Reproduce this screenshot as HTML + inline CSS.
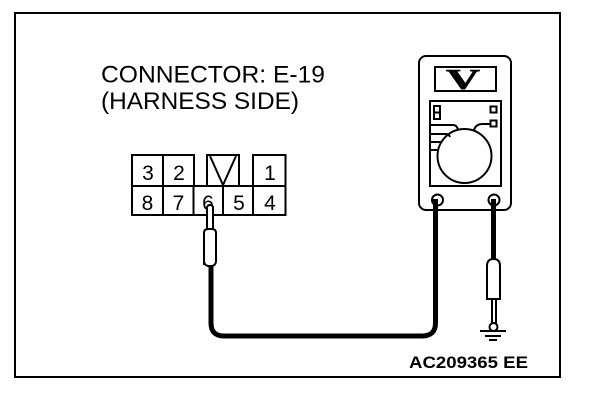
<!DOCTYPE html>
<html>
<head>
<meta charset="utf-8">
<style>
  html,body{margin:0;padding:0;background:#fff;}
  svg{display:block;}
</style>
</head>
<body>
<svg width="608" height="404" viewBox="0 0 608 404" xmlns="http://www.w3.org/2000/svg">
  <rect x="0" y="0" width="608" height="404" fill="#fff"/>
  <!-- frame -->
  <rect x="15" y="13" width="545" height="364" fill="none" stroke="#000" stroke-width="2"/>

  <!-- title -->
  <g font-family="'Liberation Sans', Arial, sans-serif" font-size="24" fill="#000">
    <text x="101" y="82.5" textLength="224" lengthAdjust="spacingAndGlyphs">CONNECTOR: E-19</text>
    <text x="101" y="109" textLength="198" lengthAdjust="spacingAndGlyphs">(HARNESS SIDE)</text>
  </g>

  <!-- connector -->
  <g fill="none" stroke="#000" stroke-width="2">
    <rect x="132" y="155" width="62" height="31"/>
    <line x1="163" y1="155" x2="163" y2="186"/>
    <rect x="207" y="155" width="32" height="31"/>
    <polyline points="210,156 223,185 236,156"/>
    <rect x="253" y="155" width="32.5" height="31"/>
    <rect x="132" y="186" width="153.5" height="29"/>
    <line x1="163" y1="186" x2="163" y2="215"/>
    <line x1="193.5" y1="186" x2="193.5" y2="215"/>
    <line x1="223" y1="186" x2="223" y2="215"/>
    <line x1="253" y1="186" x2="253" y2="215"/>
  </g>
  <g font-family="'Liberation Sans', Arial, sans-serif" font-size="21" fill="#000" text-anchor="middle">
    <text x="148" y="180">3</text>
    <text x="179" y="180">2</text>
    <text x="270" y="180">1</text>
    <text x="147.5" y="210">8</text>
    <text x="178.5" y="210">7</text>
    <text x="208" y="210">6</text>
    <text x="239" y="210">5</text>
    <text x="270" y="210">4</text>
  </g>

  <!-- main wire -->
  <path d="M211,262 L211,323 Q211,336 224,336 L422,336 Q435.5,336 435.5,323 L435.5,199" fill="none" stroke="#000" stroke-width="5"/>

  <!-- left probe -->
  <g fill="#fff" stroke="#000" stroke-width="2">
    <path d="M207,230 L207,208 Q207,205 210,205 Q213,205 213,208 L213,230"/>
    <path d="M204,265 L204,233 Q204,229 208,229 L212,229 Q216,229 216,233 L216,261 Q216,265 212,266 L208,266 Q204,265 204,261 Z"/>
  </g>

  <!-- multimeter -->
  <g fill="none" stroke="#000" stroke-width="2">
    <rect x="419" y="56" width="92" height="154" rx="7" fill="#fff"/>
    <rect x="435" y="67" width="61" height="24"/>
    <rect x="430" y="101" width="71" height="85"/>
    <rect x="434" y="106" width="6" height="13"/>
    <line x1="434" y1="112.5" x2="440" y2="112.5"/>
    <rect x="490.5" y="106.5" width="6" height="6"/>
    <rect x="490.5" y="120.5" width="6" height="6"/>
    <circle cx="464.5" cy="156" r="27"/>
    <path d="M431,125 L453,125 Q457,125 458,130"/>
    <path d="M431,134 L446,134 Q449,134 450,137"/>
    <line x1="431" y1="142" x2="442" y2="142"/>
    <line x1="431" y1="150" x2="438.5" y2="150"/>
    <path d="M474,130 Q476,124 482,124 L490,124"/>
    <circle cx="437.5" cy="200" r="5.5" fill="#fff"/>
    <circle cx="494" cy="200" r="5.5" fill="#fff"/>
  </g>
  <text x="446" y="89" font-family="'Liberation Serif', 'Times New Roman', serif" font-weight="bold" font-size="28" textLength="34" lengthAdjust="spacingAndGlyphs" fill="#000" stroke="#000" stroke-width="0.6">V</text>

  <!-- right wire -->
  <line x1="493.5" y1="199" x2="493.5" y2="260" stroke="#000" stroke-width="5"/>
  <line x1="435.5" y1="199" x2="435.5" y2="210" stroke="#000" stroke-width="5"/>

  <!-- right probe -->
  <g fill="#fff" stroke="#000" stroke-width="2">
    <rect x="492" y="298" width="4" height="25"/>
    <path d="M487,299 L487,266 Q487,259 493.5,259 Q500,259 500,266 L500,299 Z"/>
    <circle cx="493.5" cy="327" r="4"/>
  </g>
  <g stroke="#000" stroke-width="2">
    <line x1="480" y1="331" x2="506" y2="331"/>
    <line x1="485" y1="336" x2="501" y2="336"/>
    <line x1="489" y1="340" x2="497" y2="340"/>
  </g>

  <!-- label -->
  <text x="409" y="368" font-family="'Liberation Sans', Arial, sans-serif" font-weight="bold" font-size="16.5" textLength="119" lengthAdjust="spacingAndGlyphs" fill="#000">AC209365 EE</text>
</svg>
</body>
</html>
